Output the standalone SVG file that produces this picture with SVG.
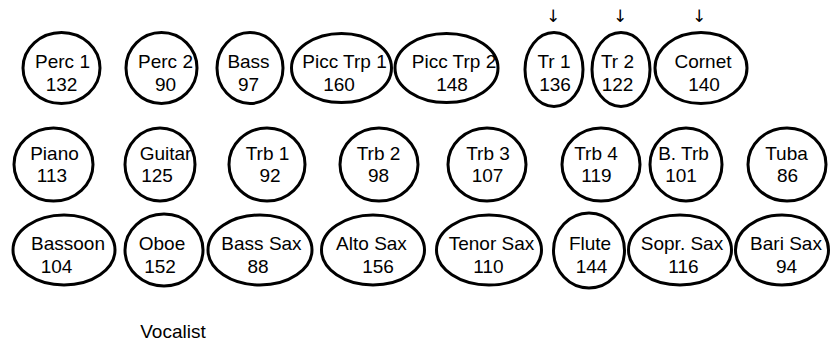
<svg xmlns="http://www.w3.org/2000/svg" width="830" height="347" viewBox="0 0 830 347">
  <style>
    .seat ellipse { fill: #ffffff; stroke: #000000; stroke-width: 3; }
    text { font-family: "Liberation Sans", Arial, Helvetica, sans-serif; font-size: 19px; fill: #000000; text-anchor: middle; }
    .cue { font-family: "DejaVu Sans", "Liberation Sans", sans-serif; font-size: 17px; }
  </style>
  <rect width="830" height="347" fill="#ffffff"/>

  <!-- cue arrows above the trumpet section -->
  <g id="cues">
    <text class="cue" x="553" y="22">↓</text>
    <text class="cue" x="620" y="22">↓</text>
    <text class="cue" x="699" y="22">↓</text>
  </g>

  <!-- row 1 -->
  <g id="perc1" class="seat"><ellipse cx="61.5" cy="68" rx="38.5" ry="35.5"/><text x="62.5" y="68">Perc 1</text><text x="61.5" y="90.5">132</text></g>
  <g id="perc2" class="seat"><ellipse cx="161.5" cy="68" rx="35.5" ry="35.5"/><text x="165.5" y="68">Perc 2</text><text x="165.5" y="90.5">90</text></g>
  <g id="bass" class="seat"><ellipse cx="250" cy="68" rx="33" ry="35.5"/><text x="248.5" y="68">Bass</text><text x="248.5" y="90.5">97</text></g>
  <g id="picc-trp-1" class="seat"><ellipse cx="341.5" cy="68" rx="50" ry="34.5"/><text x="344.5" y="68">Picc Trp 1</text><text x="339" y="90.5">160</text></g>
  <g id="picc-trp-2" class="seat"><ellipse cx="446.5" cy="68" rx="51.5" ry="34.5"/><text x="454" y="68">Picc Trp 2</text><text x="452" y="90.5">148</text></g>
  <g id="tr1" class="seat"><ellipse cx="554" cy="69.5" rx="29" ry="37"/><text x="554" y="68">Tr 1</text><text x="555" y="90.5">136</text></g>
  <g id="tr2" class="seat"><ellipse cx="621" cy="69.5" rx="29" ry="37"/><text x="617.5" y="68">Tr 2</text><text x="617.5" y="90.5">122</text></g>
  <g id="cornet" class="seat"><ellipse cx="701" cy="68" rx="46" ry="35.5"/><text x="703" y="68">Cornet</text><text x="704" y="90.5">140</text></g>

  <!-- row 2 -->
  <g id="piano" class="seat"><ellipse cx="53.5" cy="164.5" rx="39.5" ry="36.5"/><text x="54.5" y="159.5">Piano</text><text x="52" y="182">113</text></g>
  <g id="guitar" class="seat"><ellipse cx="160" cy="164.5" rx="35" ry="36.5"/><text x="165.5" y="159.5">Guitar</text><text x="157" y="182">125</text></g>
  <g id="trb1" class="seat"><ellipse cx="267" cy="164.5" rx="38" ry="36.5"/><text x="267.5" y="159.5">Trb 1</text><text x="270" y="182">92</text></g>
  <g id="trb2" class="seat"><ellipse cx="379" cy="164.5" rx="39" ry="36.5"/><text x="378.5" y="159.5">Trb 2</text><text x="378.5" y="182">98</text></g>
  <g id="trb3" class="seat"><ellipse cx="487" cy="164.5" rx="39" ry="36.5"/><text x="488" y="159.5">Trb 3</text><text x="487.5" y="182">107</text></g>
  <g id="trb4" class="seat"><ellipse cx="601" cy="164.5" rx="39" ry="36.5"/><text x="596" y="159.5">Trb 4</text><text x="596.5" y="182">119</text></g>
  <g id="bass-trb" class="seat"><ellipse cx="686" cy="164.5" rx="36" ry="36.5"/><text x="683.5" y="159.5">B. Trb</text><text x="681" y="182">101</text></g>
  <g id="tuba" class="seat"><ellipse cx="787" cy="164.5" rx="39" ry="36.5"/><text x="786.5" y="159.5">Tuba</text><text x="787.5" y="182">86</text></g>

  <!-- row 3 -->
  <g id="bassoon" class="seat"><ellipse cx="64" cy="250" rx="51" ry="35"/><text x="68" y="250">Bassoon</text><text x="56.5" y="272.5">104</text></g>
  <g id="oboe" class="seat"><ellipse cx="164" cy="250" rx="39" ry="36"/><text x="162" y="250">Oboe</text><text x="160" y="272.5">152</text></g>
  <g id="bass-sax" class="seat"><ellipse cx="260" cy="250" rx="52" ry="35"/><text x="261.5" y="250">Bass Sax</text><text x="258" y="272.5">88</text></g>
  <g id="alto-sax" class="seat"><ellipse cx="373" cy="250" rx="51.5" ry="35"/><text x="371.5" y="250">Alto Sax</text><text x="378" y="272.5">156</text></g>
  <g id="tenor-sax" class="seat"><ellipse cx="489" cy="250" rx="52.5" ry="35"/><text x="491.5" y="250">Tenor Sax</text><text x="488.5" y="272.5">110</text></g>
  <g id="flute" class="seat"><ellipse cx="589" cy="250.5" rx="35.5" ry="37.5"/><text x="590" y="250">Flute</text><text x="591.5" y="272.5">144</text></g>
  <g id="sopr-sax" class="seat"><ellipse cx="680" cy="250" rx="51.5" ry="35"/><text x="682" y="250">Sopr. Sax</text><text x="683.5" y="272.5">116</text></g>
  <g id="bari-sax" class="seat"><ellipse cx="782" cy="250" rx="46.5" ry="35"/><text x="786" y="250">Bari Sax</text><text x="786.5" y="272.5">94</text></g>

  <!-- vocalist position, unframed -->
  <g id="vocalist"><text x="173" y="338">Vocalist</text></g>
</svg>
